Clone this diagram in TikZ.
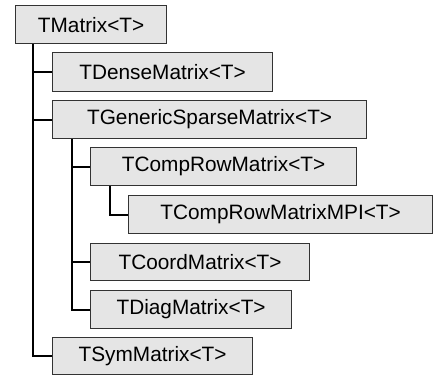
\documentclass[tikz,border=0pt]{standalone}
\usepackage{fontspec}
\setmainfont{Liberation Sans}
\usetikzlibrary{calc}
\begin{document}
\begin{tikzpicture}[x=1pt,y=-1pt,
  cls/.style={draw=black!80, line width=1.2pt, fill=gray!20, anchor=north west,
    inner sep=0pt, font=\fontsize{20.8}{24}\selectfont},
  link/.style={draw=black, line width=1.8pt}]
\useasboundingbox (0,0) rectangle (434,376);
% class boxes: name, top-left corner, size
\node[cls, minimum width=151, minimum height=38] (tm)  at (15,5)   {TMatrix<T>};
\node[cls, minimum width=220, minimum height=39] (td)  at (52,52)  {TDenseMatrix<T>};
\node[cls, minimum width=314, minimum height=38] (tg)  at (52,100) {TGenericSparseMatrix<T>};
\node[cls, minimum width=266, minimum height=38] (tc)  at (90,147) {TCompRowMatrix<T>};
\node[cls, minimum width=304, minimum height=38] (tcm) at (128,195){TCompRowMatrixMPI<T>};
\node[cls, minimum width=219, minimum height=37] (tco) at (90,243) {TCoordMatrix<T>};
\node[cls, minimum width=201, minimum height=38] (tdi) at (90,290) {TDiagMatrix<T>};
\node[cls, minimum width=200, minimum height=37] (ts)  at (52,337) {TSymMatrix<T>};
% trunk start points below each parent
\coordinate (r0) at ($(tm.south west)+(18,0)$);
\coordinate (r1) at ($(tg.south west)+(20,0)$);
\coordinate (r2) at ($(tc.south west)+(20,0)$);
% inheritance links
\draw[link] (r0) |- (td.west);
\draw[link] (r0) |- (tg.west);
\draw[link] (r0) |- (ts.west);
\draw[link] (r1) |- (tc.west);
\draw[link] (r1) |- (tco.west);
\draw[link] (r1) |- (tdi.west);
\draw[link] (r2) |- (tcm.west);
\end{tikzpicture}
\end{document}
